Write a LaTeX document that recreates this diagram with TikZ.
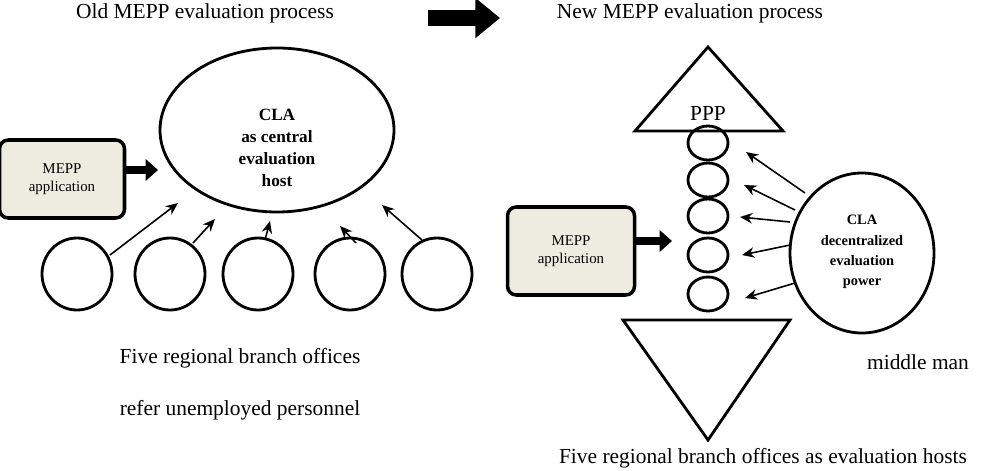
\documentclass[tikz,border=0pt]{standalone}
\usepackage{fontspec}
\setmainfont{Liberation Serif}
\usetikzlibrary{arrows.meta,shapes.geometric}
\begin{document}
\begin{tikzpicture}[x=0.02cm,y=-0.02cm,
  el/.style={draw,line width=1.6pt,ellipse,inner sep=0pt},
  box/.style={draw,line width=2pt,rounded corners=5pt,fill={rgb,255:red,238;green,236;blue,225},align=center,font=\fontsize{8.5}{10.5}\selectfont},
  thin/.style={-{Stealth[length=7pt,width=6pt]},line width=0.9pt},
  fat/.style={-{Triangle[length=7pt,width=12pt]},line width=5pt},
  lbl/.style={font=\fontsize{12.2}{14}\selectfont}]
\useasboundingbox (0,0) rectangle (986,470);
\node[lbl] (t1) at (205,13) {Old MEPP evaluation process};
\node[lbl] (t2) at (690,13) {New MEPP evaluation process};
\coordinate (a1) at (428,18); \coordinate (a2) at (500,18);
\draw[-{Triangle[length=14pt,width=22pt]},line width=9pt] (a1) -- (a2);
% left
\node[el,minimum width=234*0.02cm,minimum height=164*0.02cm] (cla) at (277,130) {};
\node[font=\bfseries\fontsize{9.8}{12.5}\selectfont,align=center] (clat) at (277,148) {CLA\\as central\\evaluation\\host};
\node[box,minimum width=125*0.02cm,minimum height=78*0.02cm] (m1) at (62,179) {MEPP\\application};
\coordinate (m1e) at (158,170);
\draw[fat] (m1.east|-m1e) -- (m1e);
\foreach \i/\x in {1/77,2/170,3/258,4/350,5/437}{
  \node[el,minimum width=70*0.02cm,minimum height=72*0.02cm] (s\i) at (\x,274) {};}
\coordinate (p1) at (110,255); \coordinate (q1) at (178,203);
\coordinate (p2) at (193,243); \coordinate (q2) at (215,219);
\coordinate (p3) at (265,240); \coordinate (q3) at (270,221);
\coordinate (p4) at (356,243); \coordinate (q4) at (340,226);
\coordinate (p5) at (422,240); \coordinate (q5) at (382,205);
\foreach \i in {1,...,5}{\draw[thin] (p\i) -- (q\i);}
\node[lbl] (l1) at (240,358) {Five regional branch offices};
\node[lbl] (l2) at (240,410) {refer unemployed personnel};
% right
\draw[line width=1.6pt] (708,47) -- (635,131) -- (783,131) -- cycle;
\node[lbl] (ppp) at (708,113) {PPP};
\foreach \i/\y in {1/143,2/180,3/216,4/255,5/294}{
  \node[el,minimum width=40*0.02cm,minimum height=34*0.02cm] (c\i) at (708,\y) {};}
\draw[line width=1.6pt] (623,320) -- (790,320) -- (708,440) -- cycle;
\node[box,minimum width=127*0.02cm,minimum height=88*0.02cm] (m2) at (571,251) {MEPP\\application};
\coordinate (m2e) at (672,241);
\draw[fat] (m2.east|-m2e) -- (m2e);
\node[el,minimum width=144*0.02cm,minimum height=160*0.02cm] (cl2) at (862,253) {};
\node[font=\bfseries\fontsize{8.2}{11.5}\selectfont,align=center] (cla2) at (862,252) {CLA\\decentralized\\evaluation\\power};
\coordinate (u1) at (805,193); \coordinate (v1) at (746,152);
\coordinate (u2) at (795,210); \coordinate (v2) at (744,185);
\coordinate (u3) at (790,222); \coordinate (v3) at (740,217);
\coordinate (u4) at (790,245); \coordinate (v4) at (742,255);
\coordinate (u5) at (795,283); \coordinate (v5) at (745,298);
\foreach \i in {1,...,5}{\draw[thin] (u\i) -- (v\i);}
\node[lbl] (mm) at (918,362) {middle man};
\node[lbl] (bot) at (763,458) {Five regional branch offices as evaluation hosts};
\end{tikzpicture}
\end{document}
